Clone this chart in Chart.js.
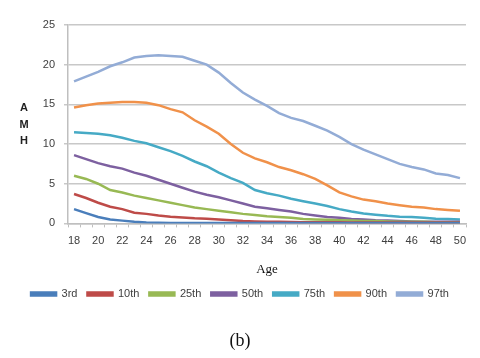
<!DOCTYPE html>
<html>
<head>
<meta charset="utf-8">
<script src="https://cdn.jsdelivr.net/npm/chart.js@4.4.0/dist/chart.umd.min.js"></script>
<style>
html,body{margin:0;padding:0;background:#fff;}
#wrap{width:480px;height:358px;position:relative;}
</style>
</head>
<body>
<div id="wrap"><canvas id="c" width="480" height="358"></canvas></div>
<script>
const ages = ['18','19','20','21','22','23','24','25','26','27','28','29','30','31','32','33','34','35','36','37','38','39','40','41','42','43','44','45','46','47','48','49','50'];
const shownTicks = ['18','20','22','24','26','28','30','32','34','36','38','40','42','44','46','48','50'];
const yTicks = [0,5,10,15,20,25];
const seriesNames = ['3rd','10th','25th','50th','75th','90th','97th'];
const p3  = [1.8,1.3,0.8,0.5,0.35,0.2,0.12,0.08,0.06,0.05,0.05,0.05,0.05,0.05,0.04,0.04,0.04,0.04,0.04,0.04,0.04,0.04,0.04,0.04,0.04,0.04,0.04,0.04,0.04,0.04,0.04,0.04,0.04];
const p10 = [3.7,3.2,2.6,2.1,1.8,1.35,1.2,1.0,0.85,0.75,0.65,0.6,0.5,0.4,0.3,0.25,0.22,0.2,0.18,0.16,0.15,0.14,0.13,0.12,0.12,0.11,0.1,0.1,0.1,0.1,0.1,0.1,0.1];
const p25 = [6.0,5.6,5.0,4.2,3.9,3.5,3.2,2.9,2.6,2.3,2.0,1.8,1.6,1.4,1.2,1.05,0.9,0.8,0.7,0.55,0.5,0.45,0.4,0.35,0.3,0.3,0.25,0.2,0.2,0.2,0.15,0.15,0.15];
const p50 = [8.6,8.1,7.6,7.2,6.9,6.4,6.0,5.5,5.0,4.5,4.0,3.6,3.3,2.9,2.5,2.1,1.9,1.7,1.5,1.2,1.0,0.8,0.7,0.55,0.5,0.4,0.35,0.3,0.25,0.2,0.2,0.2,0.2];
const p75 = [11.5,11.4,11.3,11.1,10.8,10.4,10.1,9.6,9.1,8.5,7.8,7.2,6.4,5.7,5.1,4.2,3.8,3.5,3.1,2.8,2.5,2.2,1.8,1.5,1.25,1.1,0.95,0.85,0.8,0.7,0.6,0.55,0.5];
const p90 = [14.6,14.9,15.1,15.2,15.3,15.3,15.2,14.9,14.4,14.0,13.0,12.2,11.3,10.0,8.9,8.2,7.7,7.1,6.7,6.2,5.6,4.8,3.9,3.4,3.0,2.8,2.5,2.3,2.1,2.0,1.8,1.7,1.6];
const p97 = [17.9,18.5,19.1,19.8,20.3,20.9,21.1,21.2,21.1,21.0,20.5,20.0,19.0,17.7,16.5,15.6,14.8,13.9,13.3,12.9,12.3,11.7,10.9,10.0,9.3,8.7,8.1,7.5,7.1,6.8,6.3,6.1,5.7];
const colors = ['#4A7EBB','#BE4B48','#98B954','#7D60A0','#46AAC5','#F0914A','#93ACD6'];
const seriesData = [p3,p10,p25,p50,p75,p90,p97];

const yTitleLetters = ['A','M','H'];

const yTitlePlugin = {
  id: 'yTitle',
  afterDraw(chart) {
    const ctx = chart.ctx;
    ctx.save();
    ctx.fillStyle = '#222';
    ctx.font = 'bold 11px "Liberation Sans", Arial, sans-serif';
    ctx.textAlign = 'center';
    ctx.textBaseline = 'middle';
    const ys = [108, 124.5, 141];
    yTitleLetters.forEach((l, i) => ctx.fillText(l, 24, ys[i]));
    ctx.restore();
  }
};

new Chart(document.getElementById('c'), {
  type: 'line',
  data: {
    labels: ages,
    datasets: seriesNames.map((n, i) => ({
      label: n,
      data: seriesData[i],
      borderColor: colors[i],
      backgroundColor: colors[i],
      borderWidth: 2.5,
      pointRadius: 0,
      tension: 0,
      fill: false
    }))
  },
  options: {
    responsive: false,
    devicePixelRatio: 1,
    animation: false,
    layout: { padding: { left: 14, right: 14, top: 25, bottom: 6 } },
    plugins: {
      tooltip: { enabled: false },
      legend: {
        position: 'bottom',
        labels: {
          boxWidth: 25,
          boxHeight: 3,
          padding: 10,
          color: '#404040',
          font: { family: '"Liberation Sans", Arial, sans-serif', size: 11 }
        }
      },
      title: {
        display: true,
        position: 'bottom',
        text: '(b)',
        color: '#111',
        font: { family: '"Liberation Serif", "Times New Roman", serif', size: 18, weight: 'normal' },
        padding: { top: 21, bottom: 0 }
      }
    },
    scales: {
      x: {
        type: 'category',
        offset: true,
        afterFit(s) { s.height = 55; },
        grid: { display: true, offset: true, drawOnChartArea: false, drawTicks: true, tickLength: 4, color: '#BFBFBF', lineWidth: 1 },
        border: { display: true, color: '#BFBFBF', width: 1.5 },
        ticks: {
          autoSkip: false, maxRotation: 0, minRotation: 0, padding: 7,
          color: '#404040',
          font: { family: '"Liberation Sans", Arial, sans-serif', size: 11 },
          callback(v, i) { const l = ages[i]; return shownTicks.includes(l) ? l : ''; }
        },
        title: {
          display: true, text: 'Age', color: '#111',
          font: { family: '"Liberation Serif", "Times New Roman", serif', size: 13 },
          padding: { top: 0, bottom: 1 }
        }
      },
      y: {
        min: 0, max: 25,
        afterFit(s) { s.width = 54; },
        afterBuildTicks(s) { s.ticks = yTicks.map(v => ({ value: v })); },
        grid: { color: '#C8C8C8', lineWidth: 1.5, drawTicks: true, tickLength: 4 },
        border: { display: true, color: '#BFBFBF', width: 1.5 },
        ticks: {
          padding: 9, color: '#404040',
          font: { family: '"Liberation Sans", Arial, sans-serif', size: 11 }
        }
      }
    }
  },
  plugins: [yTitlePlugin]
});
</script>
</body>
</html>
